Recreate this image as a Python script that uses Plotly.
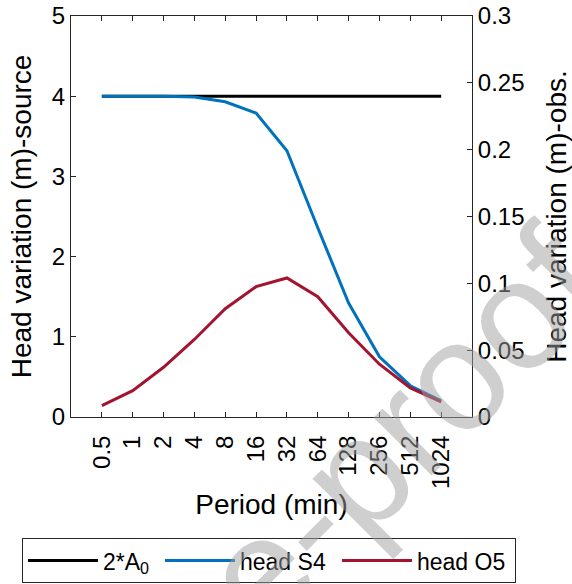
import plotly.graph_objects as go

periods = [0.5, 1, 2, 4, 8, 16, 32, 64, 128, 256, 512, 1024]
period_labels = ["0.5", "1", "2", "4", "8", "16", "32", "64", "128", "256", "512", "1024"]
two_A0 = [4, 4, 4, 4, 4, 4, 4, 4, 4, 4, 4, 4]
head_S4 = [4.00, 4.00, 4.00, 3.99, 3.93, 3.79, 3.32, 2.36, 1.42, 0.75, 0.39, 0.20]
head_O5 = [0.0085, 0.0197, 0.0372, 0.058, 0.081, 0.0975, 0.104, 0.090, 0.063, 0.0395, 0.0218, 0.0113]
left_ticks = [0, 1, 2, 3, 4, 5]
right_ticks = [0, 0.05, 0.1, 0.15, 0.2, 0.25, 0.3]
right_tick_labels = ["0", "0.05", "0.1", "0.15", "0.2", "0.25", "0.3"]

FONT = "Liberation Sans, Arial, Helvetica, sans-serif"
AX = "#262626"

fig = go.Figure()
fig.add_trace(go.Scatter(x=periods, y=two_A0, mode="lines", name="2*A<sub>0</sub>",
                         line=dict(color="#000000", width=3), legendwidth=52))
fig.add_trace(go.Scatter(x=periods, y=head_S4, mode="lines", name="head S4",
                         line=dict(color="#0072BD", width=3), legendwidth=92))
fig.add_trace(go.Scatter(x=periods, y=head_O5, mode="lines", name="head O5", yaxis="y2",
                         line=dict(color="#A2142F", width=3), legendwidth=93))

fig.update_layout(
    width=572, height=584,
    margin=dict(l=71, r=100, t=16, b=167, autoexpand=False),
    paper_bgcolor="white", plot_bgcolor="white",
    font=dict(family=FONT, size=24, color="#000000"),
    showlegend=True,
    legend=dict(orientation="h", x=1.1097, y=-0.302, xanchor="right", yanchor="top",
                bordercolor=AX, borderwidth=1, bgcolor="white",
                font=dict(size=23), itemwidth=70),
    xaxis=dict(type="log", range=[-0.60206, 3.31130], tickvals=periods, ticktext=period_labels,
               tickangle=-90, ticks="inside", ticklen=5, tickcolor=AX, showline=True,
               linecolor=AX, linewidth=1, mirror="ticks", showgrid=False, zeroline=False,
               tickfont=dict(size=24), automargin=False, ticklabelstandoff=8,
               title=dict(text="Period (min)", font=dict(size=28), standoff=6)),
    yaxis=dict(range=[0, 5], tickvals=left_ticks, ticks="inside", ticklen=5, tickcolor=AX,
               showline=True, linecolor=AX, linewidth=1, showgrid=False, zeroline=False,
               tickfont=dict(size=24), automargin=False,
               title=dict(text="Head variation (m)-source", font=dict(size=28), standoff=12)),
    yaxis2=dict(range=[0, 0.3], tickvals=right_ticks, ticktext=right_tick_labels,
                overlaying="y", side="right", ticks="inside", ticklen=5, tickcolor=AX,
                showline=True, linecolor=AX, linewidth=1, showgrid=False, zeroline=False,
                tickfont=dict(size=24), automargin=False,
                title=dict(text="Head variation (m)-obs.", font=dict(size=28), standoff=22)),
)

fig.add_annotation(text="Journal Pre-proof", xref="paper", yref="paper",
                   x=0.202, y=-0.655, xanchor="center", yanchor="middle",
                   showarrow=False, textangle=-45,
                   font=dict(family=FONT, size=155, color="rgba(160,160,160,0.5)"))

fig.write_html("out.html", config={"displayModeBar": False},
               post_script="document.body.style.margin='0px';")
